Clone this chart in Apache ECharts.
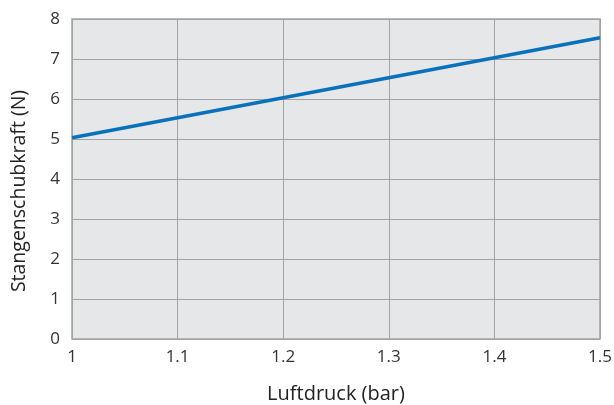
<!DOCTYPE html>
<html><head><meta charset="utf-8">
<script src="https://cdn.jsdelivr.net/npm/echarts@6/dist/echarts.min.js"></script>
<style>html,body{margin:0;padding:0;background:#fff}#c{width:614px;height:405px}</style>
</head><body><div id="c"></div>
<script>
const pressure = [1.0, 1.1, 1.2, 1.3, 1.4, 1.5];
const force = [5.03, 5.53, 6.03, 6.53, 7.03, 7.53];
const xName = 'Luftdruck (bar)';
const yName = 'Stangenschubkraft (N)';

const chart = echarts.init(document.getElementById('c'));
const font = '"Open Sans", "Noto Sans", sans-serif';
chart.setOption({
  animation: false,
  grid: {left: 72, right: 14, top: 19, bottom: 66, show: true, outerBoundsMode: 'none',
    backgroundColor: '#e6e7e9', borderColor: '#a3a3a3', borderWidth: 1.5},
  graphic: [{
    type: 'text', x: 19, y: 191, rotation: Math.PI / 2,
    style: {text: yName, fontFamily: font, fontSize: 19.5, fill: '#222',
      align: 'center', verticalAlign: 'middle'}
  }],
  xAxis: {
    type: 'value', min: 1.0, max: 1.5, interval: 0.1,
    name: xName, nameLocation: 'middle', nameGap: 45,
    nameTextStyle: {fontFamily: font, fontSize: 20, color: '#222'},
    axisLine: {show: false}, axisTick: {show: false},
    axisLabel: {fontFamily: font, fontSize: 17, color: '#333', margin: 10,
      formatter: v => String(Math.round(v * 10) / 10)},
    splitLine: {show: true, lineStyle: {color: '#a3a3a3', width: 1}}
  },
  yAxis: {
    type: 'value', min: 0, max: 8, interval: 1,
    axisLine: {show: false}, axisTick: {show: false},
    axisLabel: {fontFamily: font, fontSize: 17, color: '#333', margin: 12},
    splitLine: {show: true, lineStyle: {color: '#a3a3a3', width: 1}}
  },
  series: [{
    type: 'line', data: pressure.map((p, i) => [p, force[i]]),
    showSymbol: false, lineStyle: {color: '#0a72bb', width: 3.5}
  }]
});
</script></body></html>
